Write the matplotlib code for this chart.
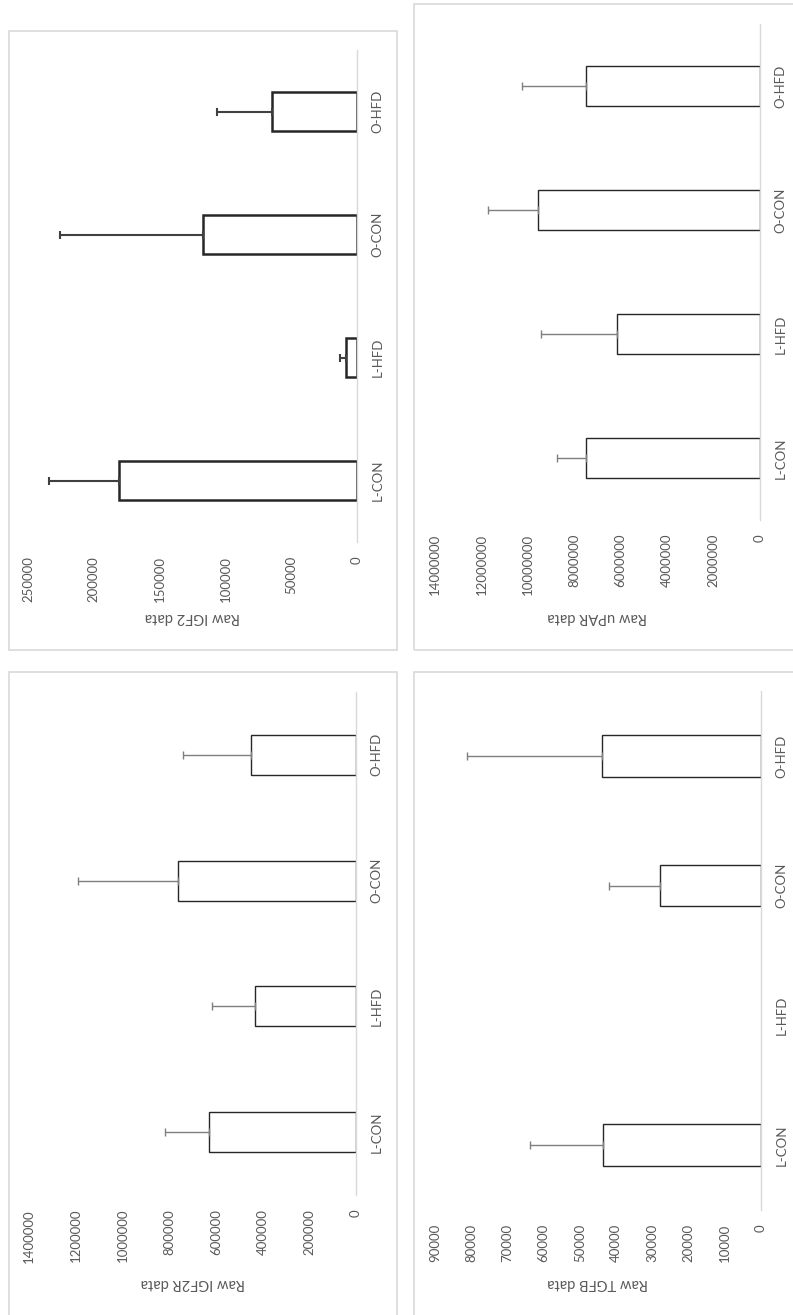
import numpy as np
import matplotlib.pyplot as plt
from matplotlib.patches import Rectangle
from matplotlib.ticker import FuncFormatter

plt.rcParams['font.family'] = ['Lato', 'DejaVu Sans']

W, H = 793, 1315

groups = ['L-CON', 'L-HFD', 'O-CON', 'O-HFD']

igf2_mean = [180700, 8400, 116750, 64800]
igf2_err = [53300, 4300, 109000, 41800]

upar_mean = [7500000, 6150000, 9560000, 7500000]
upar_err = [1260000, 3290000, 2140000, 2770000]

igf2r_mean = [629000, 431000, 764000, 450000]
igf2r_err = [188000, 184000, 425000, 290000]

# no TGFB reading for L-HFD
tgfb_mean = [43500, np.nan, 27900, 43900]
tgfb_err = [20400, np.nan, 14150, 37200]

TXT = '#595959'

fig = plt.figure(figsize=(W / 100, H / 100), dpi=100)
fig.patch.set_facecolor('white')


def frame(x0, y0, x1, y1):
    # light grey chart-area border, pixel coords from the top-left
    r = Rectangle((x0 / W, 1 - y1 / H), (x1 - x0) / W, (y1 - y0) / H,
                  transform=fig.transFigure, fill=False,
                  edgecolor='#d9d9d9', lw=1.2, clip_on=False)
    fig.add_artist(r)


def panel(px, mean, err, vmax, step, title, label_y, bar_lw=1.0,
          err_color='#7f7f7f', err_lw=1.0):
    left, top, right, bottom = px
    ax = fig.add_axes([left / W, 1 - bottom / H, (right - left) / W,
                       (bottom - top) / H])
    ax.set_facecolor('none')
    pos = np.arange(len(groups))
    mean = np.array(mean, dtype=float)
    err = np.array(err, dtype=float)
    ok = ~np.isnan(mean)
    ax.barh(pos[ok], mean[ok], height=0.32, color='white',
            edgecolor='#262626', linewidth=bar_lw, zorder=2)
    ax.errorbar(mean[ok], pos[ok],
                xerr=[np.zeros(ok.sum()), err[ok]], fmt='none',
                ecolor=err_color, elinewidth=err_lw, capsize=2.9,
                capthick=err_lw, zorder=3)
    ax.set_xlim(vmax, 0)
    ax.set_ylim(-0.5, len(groups) - 0.5)
    ax.set_xticks(np.arange(0, vmax + 1, step))
    ax.xaxis.set_major_formatter(FuncFormatter(lambda v, p: f'{v:.0f}'))
    ax.set_yticks(pos)
    ax.set_yticklabels(groups)
    ax.tick_params(axis='x', length=0, pad=10, labelrotation=90,
                   labelsize=9.5, labelcolor=TXT)
    ax.tick_params(axis='y', left=False, right=False, labelleft=False,
                   labelright=True, labelrotation=90, pad=7,
                   labelsize=9.5, labelcolor=TXT)
    for t in ax.get_yticklabels():
        t.set_va('center')
    for s in ['left', 'top', 'bottom']:
        ax.spines[s].set_visible(False)
    ax.spines['right'].set_color('#d9d9d9')
    ax.spines['right'].set_linewidth(1.0)
    ax.set_xlabel(title, rotation=180, fontsize=10.5, color=TXT, va='center')
    ax.xaxis.set_label_coords(0.5, -(label_y - bottom) / (bottom - top))
    return ax


frame(9, 31, 397, 650)
frame(414, 4, W + 5, 650)
frame(9, 672, 397, H + 5)
frame(414, 672, W + 5, H + 5)

panel((28, 50, 357, 542), igf2_mean, igf2_err, 250000, 50000,
      'Raw IGF2 data', 617, bar_lw=1.8, err_color='#404040', err_lw=1.5)
panel((435, 24, 760, 520), upar_mean, upar_err, 14000000, 2000000,
      'Raw uPAR data', 617)
panel((29, 692, 356, 1195), igf2r_mean, igf2r_err, 1400000, 200000,
      'Raw IGF2R data', 1283)
panel((435, 691, 761, 1210), tgfb_mean, tgfb_err, 90000, 10000,
      'Raw TGFB data', 1283)

fig.savefig('out.png', dpi=100, facecolor='white')
